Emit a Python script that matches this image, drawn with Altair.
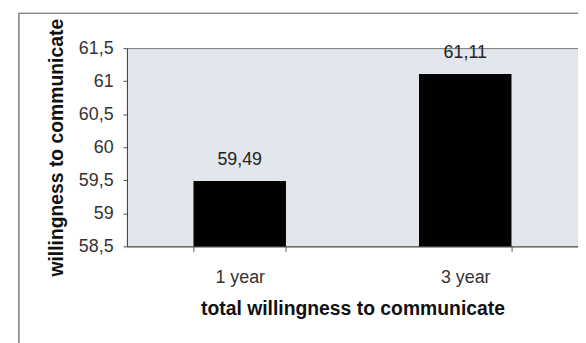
import altair as alt
import pandas as pd

categories = ["1 year", "3 year"]
values = [59.49, 61.11]
y_ticks = [58.5, 59, 59.5, 60, 60.5, 61, 61.5]

df = pd.DataFrame({"group": categories, "value": values})

FONT = "Liberation Sans"
W, H = 455, 200

x_enc = alt.X(
    "group:N",
    sort=categories,
    scale=alt.Scale(paddingInner=0.59, paddingOuter=0.295),
    axis=alt.Axis(
        title="total willingness to communicate",
        labelAngle=0,
        labelFontSize=18,
        labelFont=FONT,
        labelColor="#333333",
        labelPadding=17,
        tickSize=5,
        tickBand="extent",
        tickColor="#555555",
        domainColor="#555555",
        titleFont=FONT,
        titleFontSize=19.5,
        titleFontWeight="bold",
        titleColor="#111111",
        titleX=W / 2,
        titleY=63,
        titleBaseline="middle",
    ),
)

y_enc = alt.Y(
    "value:Q",
    scale=alt.Scale(domain=[58.5, 61.5], nice=False, zero=False),
    axis=alt.Axis(
        values=y_ticks,
        labelExpr="replace(format(datum.value, '~g'), '.', ',')",
        labelOverlap=False,
        labelFontSize=18,
        labelFont=FONT,
        labelColor="#333333",
        labelPadding=10,
        tickSize=4,
        tickColor="#555555",
        domainColor="#444444",
        grid=False,
        title="willingness to communicate",
        titleFont=FONT,
        titleFontSize=19.5,
        titleFontWeight="bold",
        titleColor="#111111",
        titleX=-71,
        titleY=H / 2,
        titleBaseline="middle",
    ),
)

frame = alt.Chart(df).mark_rect(fill=None, stroke="#8a8a8a", strokeWidth=1.2).encode(
    x=alt.value(-109), x2=alt.value(700), y=alt.value(-35), y2=alt.value(400)
)

base = alt.Chart(df).transform_calculate(
    lab="replace(format(datum.value, '.2f'), '.', ',')"
).encode(x=x_enc, y=y_enc)

bars = base.mark_bar(color="#000000").encode(y2=alt.datum(58.5))

labels = base.mark_text(
    dy=-21, fontSize=18, font=FONT, color="#222222", baseline="middle"
).encode(text="lab:N")

chart = (
    alt.layer(frame, bars, labels)
    .properties(
        width=W,
        height=H,
        autosize=alt.AutoSizeParams(type="none"),
        padding={"left": 120, "top": 39, "right": 0, "bottom": 96},
        background="#ffffff",
    )
    .configure_view(fill="#e1e5ec", stroke="#777777", strokeWidth=1)
)

chart.save("out.html", embed_options={"renderer": "svg", "actions": False})
